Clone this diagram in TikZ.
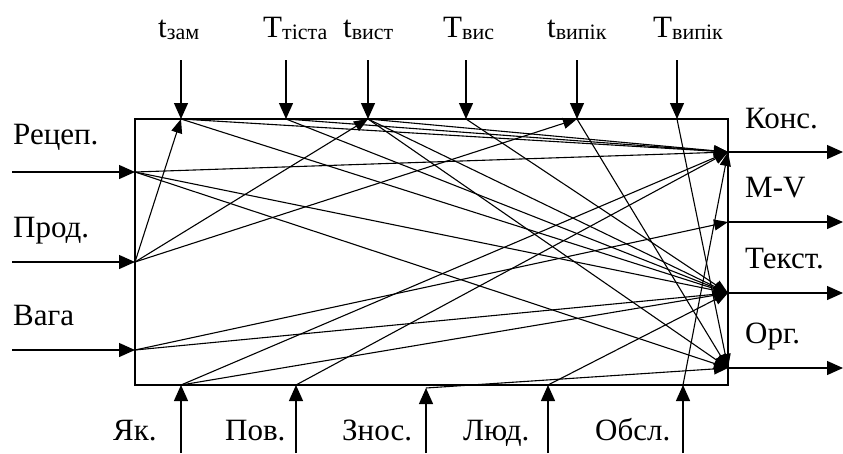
\documentclass[tikz,border=0pt]{standalone}
\usepackage{fontspec}
\setmainfont{Liberation Serif}
\usetikzlibrary{arrows.meta}
\newcommand\mainsz{\fontsize{31}{36}\selectfont}
\newcommand\subsz{\fontsize{22}{24}\selectfont}
\newcommand\idx[2]{#1\raisebox{-2pt}{\subsz #2}}
\tikzset{
  frame/.style={line width=2.5pt},
  ext/.style={line width=1.3pt,-{Triangle[length=16pt,width=14pt]}},
  link/.style={line width=1.1pt,-{Triangle[length=14pt,width=11pt]}},
  lab/.style={anchor=base west,inner sep=0pt,font=\mainsz}
}
\begin{document}
\begin{tikzpicture}[x=1pt,y=-1pt]
\useasboundingbox (0,0) rectangle (843,453);
% box
\draw[frame] (135,119) rectangle (728,385);
% points on the box
\coordinate (R) at (135,172);
\coordinate (P) at (135,262);
\coordinate (V) at (135,350);
\coordinate (tz) at (181,119);
\coordinate (Tt) at (286,119);
\coordinate (tv) at (368,119);
\coordinate (Tv) at (466,119);
\coordinate (tp) at (577,119);
\coordinate (Tp) at (677,119);
\coordinate (Ya) at (181,385);
\coordinate (Pv) at (296,385);
\coordinate (Zn) at (426,388);
\coordinate (L) at (548,385);
\coordinate (Ob) at (683,385);
\coordinate (K) at (728,152);
\coordinate (MV) at (728,222);
\coordinate (Te) at (728,293);
\coordinate (O) at (728,368);
% outer free ends
\coordinate (R0) at (12,172);
\coordinate (P0) at (12,262);
\coordinate (V0) at (12,350);
\coordinate (tz0) at (181,60);
\coordinate (Tt0) at (286,60);
\coordinate (tv0) at (368,60);
\coordinate (Tv0) at (466,60);
\coordinate (tp0) at (577,60);
\coordinate (Tp0) at (677,60);
\coordinate (Ya0) at (181,453);
\coordinate (Pv0) at (296,453);
\coordinate (Zn0) at (426,453);
\coordinate (L0) at (548,453);
\coordinate (Ob0) at (683,453);
\coordinate (K1) at (843,152);
\coordinate (MV1) at (843,222);
\coordinate (Te1) at (843,293);
\coordinate (O1) at (843,368);
% external arrows
\foreach \a in {R,P,V,tz,Tt,tv,Tv,tp,Tp,Ya,Pv,Zn,L,Ob}{\draw[ext] (\a0) -- (\a);}
\foreach \a in {K,MV,Te,O}{\draw[ext] (\a) -- (\a1);}
% internal links
\draw[link] (P) -- (tz);
\draw[link] (P) -- (tv);
\draw[link] (P) -- (tp);
\draw[link] (R) -- (K);
\draw[link] (R) -- (Te);
\draw[link] (R) -- (O);
\draw[link] (V) -- (MV);
\draw[link] (V) -- (Te);
\draw[link] (tz) -- (K);
\draw[link] (tz) -- (Te);
\draw[link] (Tt) -- (K);
\draw[link] (Tt) -- (Te);
\draw[link] (tv) -- (K);
\draw[link] (tv) -- (Te);
\draw[link] (tv) -- (O);
\draw[link] (Tv) -- (Te);
\draw[link] (tp) -- (O);
\draw[link] (Tp) -- (O);
\draw[link] (Ya) -- (K);
\draw[link] (Ya) -- (Te);
\draw[link] (Pv) -- (K);
\draw[link] (Zn) -- (O);
\draw[link] (L) -- (Te);
\draw[link] (Ob) -- (K);
% labels
\node[lab] (lR) at (13,144) {Рецеп.};
\node[lab] (lP) at (13,237) {Прод.};
\node[lab] (lV) at (13,325) {Вага};
\node[lab] (lK) at (745,128) {Конс.};
\node[lab] (lMV) at (745,197) {M-V};
\node[lab] (lTe) at (745,268) {Текст.};
\node[lab] (lO) at (745,343) {Орг.};
\node[lab] (ltz) at (158,37) {\idx{t}{зам}};
\node[lab] (lTt) at (263,37) {\idx{T}{тіста}};
\node[lab] (ltv) at (343,37) {\idx{t}{вист}};
\node[lab] (lTv) at (443,37) {\idx{T}{вис}};
\node[lab] (ltp) at (547,37) {\idx{t}{випік}};
\node[lab] (lTp) at (653,37) {\idx{T}{випік}};
\node[lab] (lYa) at (113,440) {Як.};
\node[lab] (lPv) at (225,440) {Пов.};
\node[lab] (lZn) at (342,440) {Знос.};
\node[lab] (lL) at (463,440) {Люд.};
\node[lab] (lOb) at (595,440) {Обсл.};
\end{tikzpicture}
\end{document}
